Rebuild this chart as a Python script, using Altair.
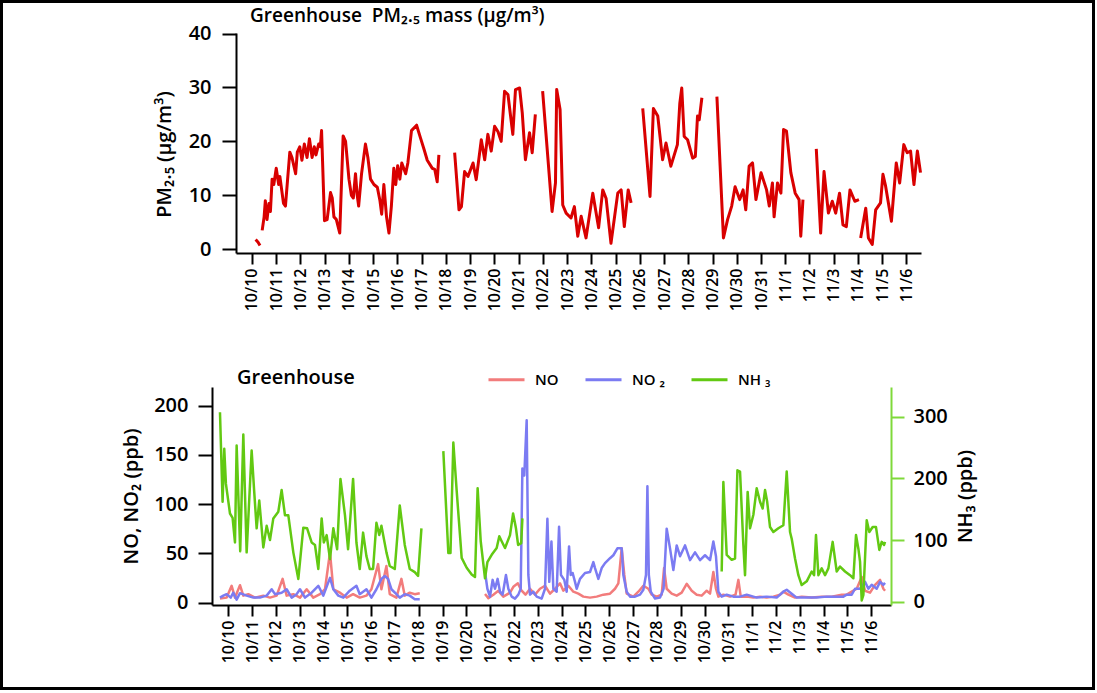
import json
import altair as alt
import pandas as pd

# ---------------- data ----------------
DATE_LABELS = ["10/10", "10/11", "10/12", "10/13", "10/14", "10/15", "10/16", "10/17",
               "10/18", "10/19", "10/20", "10/21", "10/22", "10/23", "10/24", "10/25",
               "10/26", "10/27", "10/28", "10/29", "10/30", "10/31", "11/1", "11/2",
               "11/3", "11/4", "11/5", "11/6"]

# day offset from 10/10 00:00 ; None marks a gap in the record
pm_day = [0.15, 0.25, 0.33, None,
          0.42, 0.50, 0.55, 0.62, 0.70, 0.76, 0.83, 0.90, 1.00, 1.10, 1.15, 1.30, 1.38, 1.56, 1.65,
          1.80, 1.87, 1.97, 2.06, 2.16, 2.27, 2.37, 2.48, 2.57, 2.64, 2.75, 2.82, 2.87, 2.99, 3.10,
          3.24, 3.31, 3.38, 3.48, 3.62, 3.76, 3.86, 4.00, 4.10, 4.18, 4.27, 4.34, 4.40, 4.52, 4.68,
          4.78, 4.89, 5.03, 5.17, 5.28, 5.35, 5.44, 5.55, 5.65, 5.75, 5.85, 5.93, 6.01, 6.10, 6.18,
          6.34, 6.43, 6.58, 6.79, 6.96, 7.10, 7.23, 7.44, 7.54, 7.64, 7.71, None,
          8.36, 8.54, 8.64, 8.77, 8.91, 9.12, 9.25, 9.46, 9.60, 9.73, 9.87, 10.01, 10.15, 10.28,
          10.42, 10.56, 10.76, 10.87, 11.04, 11.15, 11.28, 11.45, 11.56, 11.69, None,
          11.99, 12.38, 12.52, 12.57, 12.71, 12.82, 12.96, 13.16, 13.30, 13.44, 13.58, 13.78, 14.06,
          14.30, 14.47, 14.61, 14.81, 15.09, 15.23, 15.36, 15.52, 15.64, None,
          16.12, 16.42, 16.56, 16.74, 16.94, 17.08, 17.28, 17.55, 17.65, 17.73, 17.83, 17.97, 18.18,
          18.29, 18.38, 18.45, 18.56, None,
          19.18, 19.45, 19.62, 19.79, 19.93, 20.12, 20.26, 20.37, 20.51, 20.65, 20.79, 21.00, 21.23,
          21.34, 21.47, 21.54, 21.68, 21.82, 21.93, 22.05, 22.23, 22.41, 22.57, 22.64, 22.73, None,
          23.28, 23.46, 23.60, 23.78, 23.94, 24.08, 24.24, 24.38, 24.52, 24.67, 24.87, 25.04, None,
          25.11, 25.32, 25.43, 25.59, 25.73, 25.93, 26.03, 26.14, 26.38, 26.58, 26.72, 26.89, 27.03,
          27.17, 27.31, 27.45, 27.58]
pm_val = [1.8, 1.3, 0.7, None,
          3.5, 6.0, 9.0, 5.5, 8.5, 7.0, 13.0, 12.0, 15.0, 12.0, 13.5, 8.5, 8.0, 18.0, 17.0,
          14.0, 18.0, 19.0, 16.5, 19.5, 17.0, 20.5, 17.0, 19.0, 17.5, 19.5, 19.0, 22.0, 5.3, 5.5,
          10.5, 9.5, 6.0, 5.5, 3.0, 21.0, 20.0, 13.0, 10.0, 9.5, 14.0, 10.0, 8.0, 14.0, 19.5,
          17.0, 13.0, 12.0, 11.5, 9.0, 6.5, 12.0, 6.0, 3.0, 8.0, 15.0, 12.0, 15.5, 13.0, 16.0,
          14.0, 16.0, 22.0, 23.0, 20.5, 18.5, 16.5, 15.0, 14.8, 12.5, 17.5, None,
          17.9, 7.3, 7.9, 14.4, 13.5, 16.0, 12.9, 20.3, 16.6, 21.3, 18.2, 22.8, 21.8, 20.0,
          29.3, 28.7, 21.3, 29.6, 29.9, 25.3, 16.6, 21.6, 17.9, 25.0, None,
          29.3, 7.0, 12.3, 29.6, 25.9, 8.2, 6.7, 5.8, 7.9, 2.4, 6.1, 2.1, 10.4,
          4.0, 11.0, 9.4, 1.1, 10.4, 11.0, 4.2, 11.0, 8.6, None,
          26.1, 9.8, 26.1, 24.7, 16.6, 19.7, 15.4, 19.4, 27.1, 29.9, 20.9, 20.3, 16.9,
          17.2, 24.7, 24.0, 28.1, None,
          28.3, 2.1, 5.5, 8.0, 11.6, 9.2, 11.0, 7.3, 15.4, 16.0, 9.2, 14.2, 11.0,
          8.0, 12.3, 6.0, 12.3, 10.4, 22.2, 21.9, 14.2, 10.4, 9.2, 2.4, 9.2, None,
          18.6, 3.0, 14.4, 6.7, 8.9, 6.7, 10.4, 4.5, 4.2, 11.0, 8.9, 9.2, None,
          2.1, 7.6, 2.1, 0.9, 7.3, 8.6, 13.9, 11.7, 5.2, 16.0, 12.3, 19.4, 17.9,
          18.2, 12.0, 18.2, 14.2]

nh3_day = [-0.35, -0.24, -0.17, -0.10, 0.07, 0.18, 0.28, 0.35, 0.50, 0.63, 0.77, 0.98, 1.08, 1.19,
           1.30, 1.47, 1.61, 1.75, 1.89, 2.10, 2.24, 2.38, 2.52, 2.73, 2.94, 3.15, 3.31, 3.50, 3.64,
           3.78, 3.92, 4.01, 4.13, 4.27, 4.41, 4.57, 4.71, 4.90, 5.03, 5.24, 5.38, 5.52, 5.66, 5.80,
           5.94, 6.08, 6.22, 6.34, 6.43, 6.64, 6.78, 6.99, 7.20, 7.41, 7.62, 7.83, 7.97, 8.11, None,
           9.03, 9.24, 9.33, 9.45, 9.59, 9.80, 10.01, 10.22, 10.36, 10.47, 10.60, 10.78, 10.88, 11.06,
           11.27, 11.38, 11.48, 11.62, 11.83, 11.96, 12.08, 12.17, 12.30, 12.35, None,
           20.72, 20.79, 20.93, 21.14, 21.28, 21.38, 21.49, 21.63, 21.70, 21.81, 21.91, 22.05, 22.19,
           22.33, 22.44, 22.54, 22.63, 22.75, 22.89, 23.10, 23.31, 23.45, 23.59, 23.66, 23.80, 23.94,
           24.08, 24.29, 24.50, 24.60, 24.68, 24.78, 24.92, 25.06, 25.20, 25.38, 25.55, 25.69, 25.90,
           26.11, 26.25, 26.36, 26.46, 26.53, 26.60, 26.67, 26.81, 26.92, 27.06, 27.20, 27.34, 27.44,
           27.54, 27.58]
nh3_val = [307, 162, 248, 191, 143, 136, 96, 253, 82, 271, 80, 245, 183, 119,
           164, 88, 123, 100, 135, 146, 181, 140, 140, 80, 37, 120, 119, 96, 92,
           53, 135, 96, 108, 69, 119, 85, 199, 140, 85, 199, 96, 53, 112, 74,
           53, 53, 128, 108, 123, 80, 58, 53, 156, 92, 53, 48, 42, 119, None,
           244, 79, 79, 258, 180, 71, 55, 44, 40, 184, 98, 38, 64, 76,
           87, 106, 98, 87, 108, 143, 119, 92, 95, 135, None,
           49, 194, 76, 68, 70, 213, 211, 92, 43, 178, 119, 141, 184,
           162, 151, 181, 162, 121, 113, 119, 124, 211, 113, 102, 70, 43,
           27, 33, 49, 43, 108, 43, 54, 43, 54, 97, 49, 57, 49,
           43, 38, 108, 86, 65, 2, 11, 132, 113, 121, 121, 84, 97,
           92, 97]

no2_day = [-0.35, -0.21, -0.07, 0.10, 0.21, 0.35, 0.49, 0.77, 1.05, 1.33, 1.61, 1.82, 1.96, 2.24,
           2.45, 2.66, 2.87, 3.01, 3.22, 3.50, 3.78, 3.99, 4.27, 4.41, 4.62, 4.83, 5.10, 5.38, 5.52,
           5.80, 6.01, 6.22, 6.43, 6.57, 6.71, 6.85, 7.06, 7.20, 7.41, 7.62, 7.83, 8.04, None,
           10.78, 10.88, 10.99, 11.10, 11.20, 11.31, 11.41, 11.52, 11.66, 11.76, 11.90, 12.04, 12.18,
           12.28, 12.35, 12.43, 12.53, 12.60, 12.67, 12.81, 12.95, 13.16, 13.30, 13.40, 13.48, 13.57,
           13.65, 13.79, 13.89, 13.97, 14.11, 14.21, 14.31, 14.38, 14.46, 14.56, 14.63, 14.77, 14.98,
           15.19, 15.33, 15.40, 15.54, 15.68, 15.82, 16.03, 16.17, 16.34, 16.52, 16.59, 16.73, 16.87,
           17.08, 17.29, 17.43, 17.54, 17.60, 17.66, 17.74, 17.92, 18.13, 18.28, 18.41, 18.55, 18.69,
           18.83, 18.97, 19.18, 19.39, 19.60, 19.81, 20.02, 20.23, 20.37, 20.48, 20.58, 20.72, 20.93,
           21.21, 21.49, 21.77, 22.19, 22.61, 23.03, 23.31, 23.45, 23.66, 23.87, 24.29, 24.71, 25.13,
           25.55, 25.83, 25.97, 26.18, 26.32, 26.53, 26.74, 26.88, 27.02, 27.23, 27.37, 27.51, 27.58]
no2_val = [5, 7, 8.5, 5, 10, 3, 9.5, 7, 5, 5, 7, 13.5, 8.5, 10,
           13.5, 5, 8.5, 13.5, 5, 10, 17, 7, 25, 13.5, 7, 5, 12, 17, 8.5,
           13.5, 5, 13.5, 24, 27, 24, 13.5, 8.5, 5, 8.5, 7, 3.4, 3.4, None,
           31, 14, 6, 23, 14, 24, 11, 8, 28, 14, 6, 4, 8,
           14, 136, 129, 185, 28, 8, 11, 6, 4, 14, 85, 21, 62,
           14, 11, 77, 28, 23, 11, 57, 28, 30, 21, 14, 24, 30,
           31, 41, 35, 24, 35, 40, 45, 48, 55, 55, 28, 11, 6,
           6, 8, 13, 28, 118, 28, 11, 4, 5, 14, 75, 55, 33,
           58, 47, 58, 43, 51, 43, 48, 43, 62, 47, 11, 6, 8,
           6, 6, 8, 5, 6, 5, 11, 13, 9, 5, 5, 5, 6,
           6, 6, 8, 8, 14, 14, 21, 14, 18, 14, 21, 18, 20]

no_day = [-0.35, -0.07, 0.14, 0.28, 0.49, 0.63, 0.84, 1.12, 1.47, 1.75, 2.03, 2.28, 2.45, 2.73,
          3.01, 3.29, 3.57, 3.85, 4.06, 4.27, 4.41, 4.69, 4.97, 5.24, 5.52, 5.80, 6.01, 6.29, 6.43,
          6.64, 6.78, 7.06, 7.27, 7.41, 7.62, 7.83, 8.04, None,
          10.78, 10.92, 11.13, 11.34, 11.55, 11.83, 11.97, 12.16, 12.30, 12.48, 12.67, 12.88, 13.09,
          13.30, 13.51, 13.72, 13.93, 14.07, 14.28, 14.49, 14.70, 14.91, 15.19, 15.47, 15.75, 16.03,
          16.24, 16.38, 16.52, 16.63, 16.73, 17.01, 17.22, 17.43, 17.64, 17.78, 17.99, 18.20, 18.30,
          18.41, 18.62, 18.83, 19.04, 19.25, 19.46, 19.67, 19.88, 20.09, 20.23, 20.37, 20.48, 20.58,
          20.79, 21.07, 21.30, 21.42, 21.52, 21.77, 22.05, 22.33, 22.61, 22.89, 23.17, 23.31, 23.52,
          23.80, 24.08, 24.50, 24.92, 25.34, 25.76, 25.97, 26.18, 26.39, 26.60, 26.74, 26.95, 27.16,
          27.37, 27.51, 27.58]
no_val = [4, 5, 17, 5, 17.6, 7, 8.5, 5, 7, 5, 7, 24, 7, 8.5,
          5, 13.5, 5, 8.5, 13.5, 51, 13.5, 10, 5, 8.5, 5, 7, 13.5, 39, 13.5,
          37, 8.5, 5, 24, 7, 10, 8.5, 9.5, None,
          8.6, 4.5, 8, 11.9, 6, 10, 16, 19.5, 12.7, 8, 14, 8, 14,
          17, 9, 14, 19.5, 12, 17, 11, 9, 6, 5, 6, 8, 9,
          14, 19.5, 55, 28, 9, 6, 11, 17, 14, 8, 6, 8, 35,
          14, 9, 7, 10, 19, 12, 8, 7, 12, 9, 31, 14, 6,
          8, 6, 8, 23, 6, 6, 5, 6, 5, 6, 8, 11, 8,
          5, 6, 5, 6, 6, 8, 8, 11, 14, 26, 12, 10, 18,
          23, 14, 12]

SERIES = ["NO", "NO \u2082", "NH \u2083"]
SERIES_COLORS = ["#f27c7c", "#7b7bf2", "#62c912"]


def frame_of(days, vals, name):
    rows, seg = [], 0
    for d, v in zip(days, vals):
        if d is None or v is None:
            seg += 1
            continue
        rows.append({"day": d, "val": v, "seg": f"{name}-{seg}", "series": name})
    return pd.DataFrame(rows)


pm_df = frame_of(pm_day, pm_val, "PM")
no_df = frame_of(no_day, no_val, SERIES[0])
no2_df = frame_of(no2_day, no2_val, SERIES[1])
nh3_df = frame_of(nh3_day, nh3_val, SERIES[2])
nox_df = pd.concat([no_df, no2_df], ignore_index=True)

# ---------------- styling ----------------
FONT = "Open Sans"
label_expr = json.dumps(DATE_LABELS) + "[datum.value]"
one = alt.Data(values=[{}])


def x_axis():
    return alt.Axis(values=list(range(len(DATE_LABELS))), labelExpr=label_expr, labelAngle=270,
                    labelFont=FONT, labelFontSize=16, labelFontWeight=600, labelColor="black",
                    labelPadding=4, tickSize=11, tickWidth=2, tickColor="black",
                    domainColor="black", domainWidth=2, grid=False, title=None,
                    labelOverlap=False, labelBound=False, labelFlush=False)


def y_axis_style(**kw):
    base = dict(tickWidth=2, grid=False, labelFont=FONT, labelFontSize=20, labelFontWeight=600,
                labelColor="black", titleFont=FONT, titleFontSize=20, titleFontWeight=600,
                titleColor="black", domainWidth=2)
    base.update(kw)
    return alt.Axis(**base)


# ---------------- top: PM2.5 ----------------
TOP_W, TOP_H = 709, 220
top_line = alt.Chart(pm_df).mark_line(color="#d90000", strokeWidth=3, strokeJoin="round").encode(
    x=alt.X("day:Q", scale=alt.Scale(domain=[-0.66, 27.6], range=[24, TOP_W], nice=False, zero=False),
            axis=x_axis()),
    y=alt.Y("val:Q", scale=alt.Scale(domain=[-0.7, 40.1], nice=False, zero=False),
            axis=y_axis_style(values=[0, 10, 20, 30, 40], offset=-24, tickSize=14,
                              tickColor="black", domainColor="black", labelPadding=11,
                              title="PM\u2082.\u2085  (\u00b5g/m\u00b3)", titlePadding=14,
                              titleY=121)),
    detail="seg:N",
)
top_title = alt.Chart(one).mark_text(
    text="Greenhouse\u00a0 PM\u2082.\u2085 mass (\u00b5g/m\u00b3)", align="left", baseline="middle",
    font=FONT, fontSize=19, fontWeight=600, color="black",
).encode(x=alt.value(38), y=alt.value(-17))
outer_frame = alt.Chart(one).mark_rect(fillOpacity=0, stroke="black", strokeWidth=3).encode(
    x=alt.value(-210.5), x2=alt.value(881.5), y=alt.value(-31.5), y2=alt.value(655.5))

top = alt.layer(top_line, top_title, outer_frame).properties(width=TOP_W, height=TOP_H)

# ---------------- bottom: NO, NO2, NH3 ----------------
BOT_W, BOT_H = 679, 218
bx = alt.X("day:Q", scale=alt.Scale(domain=[-0.685, 27.83], nice=False, zero=False), axis=x_axis())
color = alt.Color("series:N", scale=alt.Scale(domain=SERIES, range=SERIES_COLORS),
                  legend=alt.Legend(orient="none", legendX=275, legendY=-27, direction="horizontal",
                                    title=None, symbolType="stroke", symbolSize=1296,
                                    symbolStrokeWidth=3, labelFont=FONT, labelFontSize=15,
                                    labelFontWeight=600, labelColor="black", labelOffset=9,
                                    columnPadding=20, padding=0))

left = alt.Chart(nox_df).mark_line(strokeWidth=2.5, strokeJoin="round").encode(
    x=bx,
    y=alt.Y("val:Q", scale=alt.Scale(domain=[-2.5, 218.8], nice=False, zero=False),
            axis=y_axis_style(values=[0, 50, 100, 150, 200], tickSize=14, tickColor="black",
                              domainColor="black", labelPadding=10,
                              title="NO, NO\u2082 (ppb)", titlePadding=12)),
    color=color,
    detail="seg:N",
)
right = alt.Chart(nh3_df).mark_line(strokeWidth=2.5, strokeJoin="round").encode(
    x=bx,
    y=alt.Y("val:Q", scale=alt.Scale(domain=[-5.3, 348], nice=False, zero=False),
            axis=y_axis_style(orient="right", values=[0, 100, 200, 300], tickSize=13,
                              tickColor="#7fd93a", domainColor="#7fd93a", labelPadding=9,
                              title="NH\u2083 (ppb)", titleAngle=270, titleBaseline="top",
                              titlePadding=8)),
    color=color,
    detail="seg:N",
)
bot_title = alt.Chart(one).mark_text(
    text="Greenhouse", align="left", baseline="middle", font=FONT, fontSize=20, fontWeight=600,
    color="black",
).encode(x=alt.value(25), y=alt.value(-9))

bottom = alt.layer(left, right, bot_title).resolve_scale(y="independent").properties(
    width=BOT_W, height=BOT_H)

chart = alt.vconcat(top, bottom, spacing=134, bounds="flush").resolve_legend(
    color="independent"
).resolve_scale(color="independent").properties(
    padding=0, background="white"
).configure_view(stroke=None)

chart.save("out.html", embed_options={"renderer": "svg", "actions": False})
